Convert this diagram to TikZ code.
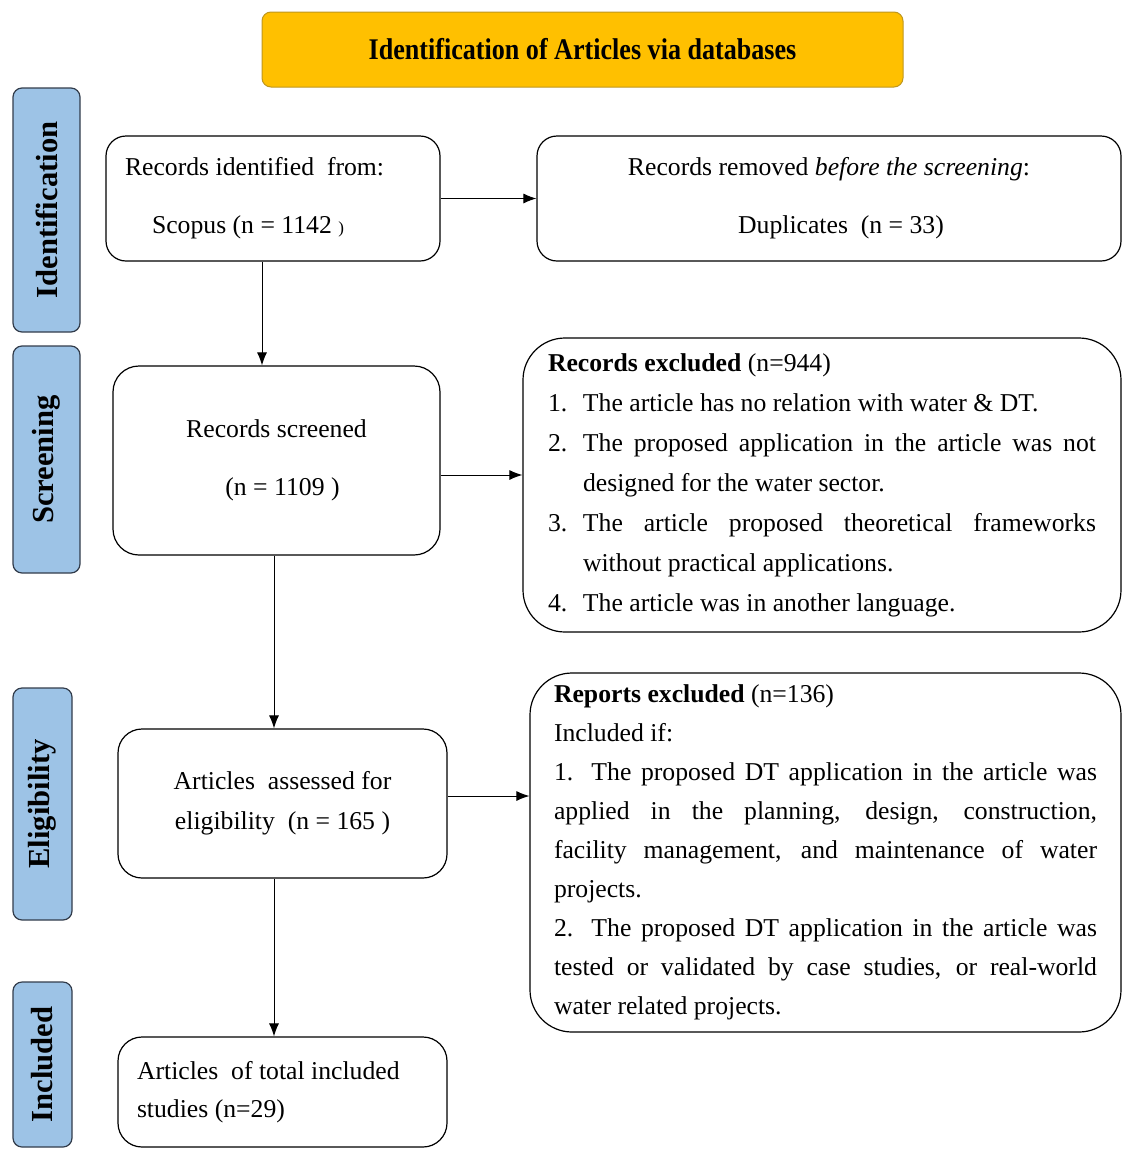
\documentclass[tikz,border=0pt]{standalone}
\usepackage{fontspec}
\setmainfont{Liberation Serif}
\newfontfamily\headfont{Liberation Serif}[FakeStretch=0.87]
\usepackage{tikz}
\usetikzlibrary{shapes}
\usetikzlibrary{arrows.meta}
\definecolor{gold}{RGB}{255,192,0}
\definecolor{golddraw}{RGB}{190,150,30}
\definecolor{phaseblue}{RGB}{157,195,230}
\definecolor{phasedraw}{RGB}{50,60,75}
\tikzstyle{titre}=[
        draw=golddraw,
        fill=gold,
        rounded corners=9pt,
        line width=1pt,
        minimum width=641pt,
        minimum height=75pt,
        font=\headfont\bfseries\fontsize{30}{32}\selectfont
]
\tikzstyle{phase}=[
        draw=phasedraw,
        fill=phaseblue,
        rounded corners=9pt,
        line width=1.2pt,
        rotate=90,
        inner sep=0pt,
        font=\bfseries\fontsize{30.6}{32}\selectfont
]
\tikzstyle{boite}=[rectangle,draw,rounded corners=20pt,line width=1.2pt,fill=white,inner sep=0pt,font=\fontsize{25.7}{40}\selectfont]
\tikzstyle{liste}=[boite,rounded corners=42pt,align=justify]
\tikzstyle{suite}=[-{Latex[length=13pt,width=10pt]},line width=1pt]

\begin{document}
\begin{tikzpicture}[x=1pt,y=-1pt]
\useasboundingbox (0,0) rectangle (1123,1149);
\node[titre] (titre) at (582.5,49.5) {Identification of Articles via databases};
\node[phase,minimum width=244pt,minimum height=67pt] (ident) at (46.5,210) {Identification};
\node[phase,minimum width=227pt,minimum height=67pt] (screen) at (46.5,459.5) {Screening};
\node[phase,minimum width=232pt,minimum height=59pt] (elig) at (42.5,804) {Eligibility};
\node[phase,minimum width=165pt,minimum height=59pt] (incl) at (42.5,1064.5) {Included};
\node[boite,minimum width=334pt,minimum height=125pt,text width=296pt,align=flush left] (a) at (273,198.5)
  {Records identified~ from:\\[18pt]\hspace*{27pt}Scopus (n = 1142 {\fontsize{17}{17}\selectfont )}};
\node[boite,minimum width=584pt,minimum height=125pt,align=center] (b) at (829,198.5)
  {Records removed \textit{before the screening}:\\[18pt]\hspace*{24pt}Duplicates~~(n = 33)};
\node[boite,rounded corners=26pt,minimum width=327pt,minimum height=189pt,align=center] (c) at (276.5,460.5)
  {Records screened\\[18pt]\hspace*{12pt}(n = 1109 )};
\node[liste,minimum width=598pt,minimum height=294pt,text width=548pt] (d) at (822,485)
  {\noindent\textbf{Records excluded} (n=944)\par
   \noindent\hangindent=35pt\hangafter=1\makebox[35pt][l]{1.}The article has no relation with water \& DT.\par
   \noindent\hangindent=35pt\hangafter=1\makebox[35pt][l]{2.}The proposed application in the article was not\linebreak designed for the water sector.\par
   \noindent\hangindent=35pt\hangafter=1\makebox[35pt][l]{3.}The article proposed theoretical frameworks\linebreak without practical applications.\par
   \noindent\hangindent=35pt\hangafter=1\makebox[35pt][l]{4.}The article was in another language.};
\node[boite,rounded corners=24pt,minimum width=329pt,minimum height=149pt,align=center] (e) at (282.5,803.5)
  {Articles~ assessed for\\eligibility~~(n = 165 )};
\node[liste,minimum width=591pt,minimum height=359pt,text width=543pt,font=\fontsize{25.7}{39}\selectfont] (f) at (825.5,852.5)
  {\noindent\textbf{Reports excluded} (n=136)\par
   \noindent Included if:\par
   \noindent 1. The proposed DT application in the article was\linebreak applied in the planning, design, construction,\linebreak facility management, and maintenance of water\linebreak projects.\par
   \noindent 2. The proposed DT application in the article was\linebreak tested or validated by case studies, or real-world\linebreak water related projects.};
\node[boite,rounded corners=24pt,minimum width=329pt,minimum height=110pt,text width=291pt,align=flush left,font=\fontsize{25.7}{38}\selectfont] (g) at (282.5,1092)
  {Articles~ of total included\\studies (n=29)};
%Drawing Edges
\draw[suite] (a) -- (b);
\draw[suite] ([xshift=-11pt]a.south) -- ([xshift=-11pt]a.south |- c.north);
\draw[suite] ([yshift=-14.5pt]c.east) -- ([yshift=-14.5pt]c.east -| d.west);
\draw[suite] ([xshift=-2.5pt]c.south) -- ([xshift=-2.5pt]c.south |- e.north);
\draw[suite] ([yshift=7.5pt]e.east) -- ([yshift=7.5pt]e.east -| f.west);
\draw[suite] ([xshift=-8.5pt]e.south) -- ([xshift=-8.5pt]e.south |- g.north);
\end{tikzpicture}
\end{document}
